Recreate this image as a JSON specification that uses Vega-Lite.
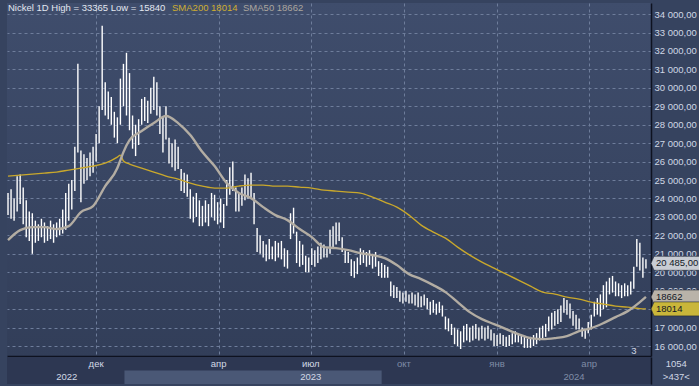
{
  "$schema": "https://vega.github.io/schema/vega-lite/v6.json",
  "padding": {"left": 3, "top": 3, "right": 2, "bottom": 2},
  "background": "#36435f",
  "spacing": 1,
  "config": {"font": "Liberation Sans", "view": {"stroke": null}},
  "datasets": {
    "ohlc": [
      {"d":"2022-09-05","lo":23100,"hi":24300},{"d":"2022-09-08","lo":22900,"hi":24500},{"d":"2022-09-11","lo":22800,"hi":24000},
      {"d":"2022-09-14","lo":23300,"hi":25200},{"d":"2022-09-17","lo":23700,"hi":25300},{"d":"2022-09-20","lo":22600,"hi":24600},
      {"d":"2022-09-23","lo":21900,"hi":23900},{"d":"2022-09-26","lo":21700,"hi":23300},{"d":"2022-09-29","lo":21000,"hi":23200},
      {"d":"2022-10-02","lo":21600,"hi":22800},{"d":"2022-10-05","lo":21700,"hi":22600},{"d":"2022-10-08","lo":21900,"hi":22900},
      {"d":"2022-10-11","lo":21600,"hi":22700},{"d":"2022-10-14","lo":21700,"hi":22500},{"d":"2022-10-17","lo":21800,"hi":22800},
      {"d":"2022-10-20","lo":21600,"hi":22600},{"d":"2022-10-23","lo":21900,"hi":22700},{"d":"2022-10-26","lo":22000,"hi":22900},
      {"d":"2022-10-29","lo":22100,"hi":23400},{"d":"2022-11-01","lo":22300,"hi":24300},{"d":"2022-11-04","lo":22800,"hi":24800},
      {"d":"2022-11-07","lo":23400,"hi":25000},{"d":"2022-11-10","lo":24400,"hi":26800},{"d":"2022-11-13","lo":26500,"hi":31300},
      {"d":"2022-11-16","lo":23800,"hi":26600},{"d":"2022-11-19","lo":24800,"hi":26400},{"d":"2022-11-22","lo":25000,"hi":26200},
      {"d":"2022-11-25","lo":25200,"hi":26500},{"d":"2022-11-28","lo":25400,"hi":26800},{"d":"2022-12-01","lo":26000,"hi":27500},
      {"d":"2022-12-04","lo":27000,"hi":29000},{"d":"2022-12-07","lo":28800,"hi":33365},{"d":"2022-12-10","lo":28500,"hi":30300},
      {"d":"2022-12-13","lo":28300,"hi":29800},{"d":"2022-12-16","lo":28000,"hi":29500},{"d":"2022-12-19","lo":27300,"hi":28700},
      {"d":"2022-12-22","lo":27000,"hi":28400},{"d":"2022-12-25","lo":28000,"hi":30500},{"d":"2022-12-28","lo":29000,"hi":31300},
      {"d":"2022-12-31","lo":28500,"hi":31900},{"d":"2023-01-03","lo":27700,"hi":30800},{"d":"2023-01-06","lo":26700,"hi":28500},
      {"d":"2023-01-09","lo":26300,"hi":28000},{"d":"2023-01-12","lo":26900,"hi":28300},{"d":"2023-01-15","lo":28000,"hi":29400},
      {"d":"2023-01-18","lo":28200,"hi":29500},{"d":"2023-01-21","lo":28100,"hi":29300},{"d":"2023-01-24","lo":28600,"hi":30000},
      {"d":"2023-01-27","lo":28800,"hi":30600},{"d":"2023-01-30","lo":28500,"hi":30300},{"d":"2023-02-02","lo":27500,"hi":29000},
      {"d":"2023-02-05","lo":26500,"hi":28400},{"d":"2023-02-08","lo":27200,"hi":29000},{"d":"2023-02-11","lo":25900,"hi":27300},
      {"d":"2023-02-14","lo":25700,"hi":27000},{"d":"2023-02-17","lo":25500,"hi":27200},{"d":"2023-02-20","lo":25600,"hi":26800},
      {"d":"2023-02-23","lo":24400,"hi":25600},{"d":"2023-02-26","lo":24300,"hi":25400},{"d":"2023-03-01","lo":24100,"hi":25300},
      {"d":"2023-03-04","lo":22900,"hi":24500},{"d":"2023-03-07","lo":22700,"hi":24100},{"d":"2023-03-10","lo":23000,"hi":24300},
      {"d":"2023-03-13","lo":22500,"hi":23900},{"d":"2023-03-16","lo":22500,"hi":23600},{"d":"2023-03-19","lo":22700,"hi":23900},
      {"d":"2023-03-22","lo":22500,"hi":23700},{"d":"2023-03-25","lo":23000,"hi":24300},{"d":"2023-03-28","lo":22800,"hi":24200},
      {"d":"2023-03-31","lo":22600,"hi":23800},{"d":"2023-04-03","lo":22700,"hi":24000},{"d":"2023-04-06","lo":22400,"hi":23700},
      {"d":"2023-04-09","lo":23600,"hi":25000},{"d":"2023-04-12","lo":24200,"hi":25700},{"d":"2023-04-15","lo":24400,"hi":26000},
      {"d":"2023-04-18","lo":23300,"hi":24600},{"d":"2023-04-21","lo":23300,"hi":24300},{"d":"2023-04-24","lo":23600,"hi":24600},
      {"d":"2023-04-27","lo":23900,"hi":25300},{"d":"2023-04-30","lo":24000,"hi":25100},{"d":"2023-05-03","lo":24000,"hi":25400},
      {"d":"2023-05-06","lo":22600,"hi":24300},{"d":"2023-05-09","lo":21100,"hi":22400},{"d":"2023-05-12","lo":21000,"hi":22000},
      {"d":"2023-05-15","lo":20800,"hi":21700},{"d":"2023-05-18","lo":20600,"hi":21500},{"d":"2023-05-21","lo":20700,"hi":21800},
      {"d":"2023-05-24","lo":20700,"hi":21400},{"d":"2023-05-27","lo":20600,"hi":21700},{"d":"2023-05-30","lo":20800,"hi":21600},
      {"d":"2023-06-02","lo":20700,"hi":21700},{"d":"2023-06-05","lo":20300,"hi":21300},{"d":"2023-06-08","lo":20200,"hi":21200},
      {"d":"2023-06-11","lo":21800,"hi":23200},{"d":"2023-06-14","lo":22100,"hi":23500},{"d":"2023-06-17","lo":20500,"hi":22200},
      {"d":"2023-06-20","lo":20300,"hi":21700},{"d":"2023-06-23","lo":20400,"hi":21500},{"d":"2023-06-26","lo":20000,"hi":20900},
      {"d":"2023-06-29","lo":20000,"hi":20800},{"d":"2023-07-02","lo":20400,"hi":21300},{"d":"2023-07-05","lo":20300,"hi":21200},
      {"d":"2023-07-08","lo":20500,"hi":21400},{"d":"2023-07-11","lo":20700,"hi":21600},{"d":"2023-07-14","lo":20800,"hi":21500},
      {"d":"2023-07-17","lo":20800,"hi":21300},{"d":"2023-07-20","lo":21000,"hi":22300},{"d":"2023-07-23","lo":21300,"hi":22500},
      {"d":"2023-07-26","lo":21500,"hi":22700},{"d":"2023-07-29","lo":21700,"hi":22700},{"d":"2023-08-01","lo":21100,"hi":21900},
      {"d":"2023-08-04","lo":20500,"hi":21200},{"d":"2023-08-07","lo":20500,"hi":21100},{"d":"2023-08-10","lo":19800,"hi":20700},
      {"d":"2023-08-13","lo":19700,"hi":20600},{"d":"2023-08-16","lo":19900,"hi":20800},{"d":"2023-08-19","lo":20400,"hi":21300},
      {"d":"2023-08-22","lo":20500,"hi":21200},{"d":"2023-08-25","lo":20300,"hi":21100},{"d":"2023-08-28","lo":20400,"hi":21200},
      {"d":"2023-08-31","lo":20200,"hi":21000},{"d":"2023-09-03","lo":20300,"hi":21100},{"d":"2023-09-06","lo":19800,"hi":20600},
      {"d":"2023-09-09","lo":19700,"hi":20500},{"d":"2023-09-12","lo":19700,"hi":20400},{"d":"2023-09-15","lo":19700,"hi":20300},
      {"d":"2023-09-18","lo":18700,"hi":19500},{"d":"2023-09-21","lo":18600,"hi":19300},{"d":"2023-09-24","lo":18600,"hi":19200},
      {"d":"2023-09-27","lo":18400,"hi":19000},{"d":"2023-09-30","lo":18300,"hi":18900},{"d":"2023-10-03","lo":18400,"hi":19000},
      {"d":"2023-10-06","lo":18300,"hi":18800},{"d":"2023-10-09","lo":18300,"hi":18900},{"d":"2023-10-12","lo":18200,"hi":18800},
      {"d":"2023-10-15","lo":18100,"hi":18900},{"d":"2023-10-18","lo":18100,"hi":18700},{"d":"2023-10-21","lo":18200,"hi":18800},
      {"d":"2023-10-24","lo":18000,"hi":18600},{"d":"2023-10-27","lo":17700,"hi":18400},{"d":"2023-10-30","lo":17800,"hi":18500},
      {"d":"2023-11-02","lo":17700,"hi":18300},{"d":"2023-11-05","lo":17800,"hi":18400},{"d":"2023-11-08","lo":17600,"hi":18200},
      {"d":"2023-11-11","lo":16900,"hi":17600},{"d":"2023-11-14","lo":16800,"hi":17500},{"d":"2023-11-17","lo":16600,"hi":17200},
      {"d":"2023-11-20","lo":16100,"hi":17000},{"d":"2023-11-23","lo":16000,"hi":16900},{"d":"2023-11-26","lo":15840,"hi":16800},
      {"d":"2023-11-29","lo":16200,"hi":17100},{"d":"2023-12-02","lo":16300,"hi":17200},{"d":"2023-12-05","lo":16200,"hi":17000},
      {"d":"2023-12-08","lo":16300,"hi":17100},{"d":"2023-12-11","lo":16400,"hi":17200},{"d":"2023-12-14","lo":16300,"hi":17000},
      {"d":"2023-12-17","lo":16400,"hi":17100},{"d":"2023-12-20","lo":16300,"hi":17000},{"d":"2023-12-23","lo":16400,"hi":17100},
      {"d":"2023-12-26","lo":16300,"hi":16900},{"d":"2023-12-29","lo":16000,"hi":16700},{"d":"2024-01-01","lo":16000,"hi":16600},
      {"d":"2024-01-04","lo":16100,"hi":16700},{"d":"2024-01-07","lo":16000,"hi":16600},{"d":"2024-01-10","lo":15950,"hi":16500},
      {"d":"2024-01-13","lo":16000,"hi":16600},{"d":"2024-01-16","lo":16100,"hi":16700},{"d":"2024-01-19","lo":16200,"hi":16800},
      {"d":"2024-01-22","lo":16200,"hi":16700},{"d":"2024-01-25","lo":16100,"hi":16600},{"d":"2024-01-28","lo":15900,"hi":16500},
      {"d":"2024-01-31","lo":15900,"hi":16400},{"d":"2024-02-03","lo":15900,"hi":16500},{"d":"2024-02-06","lo":16000,"hi":16600},
      {"d":"2024-02-09","lo":16100,"hi":16700},{"d":"2024-02-12","lo":16300,"hi":17000},{"d":"2024-02-15","lo":16400,"hi":17100},
      {"d":"2024-02-18","lo":16500,"hi":17200},{"d":"2024-02-21","lo":16800,"hi":17600},{"d":"2024-02-24","lo":16900,"hi":17800},
      {"d":"2024-02-27","lo":17100,"hi":17900},{"d":"2024-03-01","lo":17200,"hi":18000},{"d":"2024-03-04","lo":17300,"hi":18200},
      {"d":"2024-03-07","lo":17800,"hi":18600},{"d":"2024-03-10","lo":17700,"hi":18500},{"d":"2024-03-13","lo":17500,"hi":18300},
      {"d":"2024-03-16","lo":17100,"hi":17900},{"d":"2024-03-19","lo":16900,"hi":17700},{"d":"2024-03-22","lo":16900,"hi":17500},
      {"d":"2024-03-25","lo":16500,"hi":17000},{"d":"2024-03-28","lo":16400,"hi":16900},{"d":"2024-03-31","lo":16700,"hi":17300},
      {"d":"2024-04-03","lo":16900,"hi":17700},{"d":"2024-04-06","lo":17600,"hi":18400},{"d":"2024-04-09","lo":17700,"hi":18600},
      {"d":"2024-04-12","lo":17600,"hi":18800},{"d":"2024-04-15","lo":18000,"hi":19300},{"d":"2024-04-18","lo":18100,"hi":19500},
      {"d":"2024-04-21","lo":18800,"hi":19700},{"d":"2024-04-24","lo":18900,"hi":19800},{"d":"2024-04-27","lo":18700,"hi":19500},
      {"d":"2024-04-30","lo":18700,"hi":19400},{"d":"2024-05-03","lo":18600,"hi":19300},{"d":"2024-05-06","lo":18700,"hi":19400},
      {"d":"2024-05-09","lo":18700,"hi":19300},{"d":"2024-05-12","lo":18800,"hi":19500},{"d":"2024-05-15","lo":19100,"hi":20300},
      {"d":"2024-05-18","lo":20300,"hi":21800},{"d":"2024-05-21","lo":20100,"hi":21600},{"d":"2024-05-24","lo":19700,"hi":20800},
      {"d":"2024-05-27","lo":20200,"hi":20700}
    ],
    "sma": [
      {"d":"2022-09-05","s200":25215,"s50":21744},{"d":"2022-09-17","s200":25269,"s50":22286},{"d":"2022-09-29","s200":25323,"s50":22449},
      {"d":"2022-10-11","s200":25377,"s50":22449},{"d":"2022-10-23","s200":25432,"s50":22341},{"d":"2022-11-04","s200":25540,"s50":22503},
      {"d":"2022-11-16","s200":25649,"s50":23263},{"d":"2022-11-28","s200":25757,"s50":23588},{"d":"2022-12-10","s200":25920,"s50":24672},
      {"d":"2022-12-22","s200":26245,"s50":25649},{"d":"2022-12-25","s200":26354,"s50":26082},{"d":"2022-12-28","s200":26028,"s50":26516},
      {"d":"2023-01-03","s200":25866,"s50":27167},{"d":"2023-01-15","s200":25649,"s50":27655},{"d":"2023-01-27","s200":25432,"s50":28089},
      {"d":"2023-02-08","s200":25215,"s50":28469},{"d":"2023-02-20","s200":25052,"s50":28089},{"d":"2023-03-04","s200":24835,"s50":27438},
      {"d":"2023-03-16","s200":24672,"s50":26516},{"d":"2023-03-28","s200":24564,"s50":25757},{"d":"2023-04-09","s200":24564,"s50":24835},
      {"d":"2023-04-21","s200":24672,"s50":24293},{"d":"2023-05-03","s200":24727,"s50":24022},{"d":"2023-05-15","s200":24727,"s50":23533},
      {"d":"2023-05-27","s200":24672,"s50":23100},{"d":"2023-06-08","s200":24672,"s50":22829},{"d":"2023-06-20","s200":24618,"s50":22341},
      {"d":"2023-07-02","s200":24564,"s50":21907},{"d":"2023-07-14","s200":24455,"s50":21364},{"d":"2023-07-26","s200":24401,"s50":21310},
      {"d":"2023-08-07","s200":24347,"s50":21202},{"d":"2023-08-19","s200":24293,"s50":21039},{"d":"2023-08-31","s200":24076,"s50":20930},
      {"d":"2023-09-12","s200":23805,"s50":20768},{"d":"2023-09-24","s200":23533,"s50":20388},{"d":"2023-10-06","s200":23100,"s50":19900},
      {"d":"2023-10-18","s200":22557,"s50":19629},{"d":"2023-10-30","s200":22178,"s50":19304},{"d":"2023-11-11","s200":21852,"s50":18924},
      {"d":"2023-11-23","s200":21364,"s50":18382},{"d":"2023-12-05","s200":20930,"s50":17839},{"d":"2023-12-17","s200":20551,"s50":17460},
      {"d":"2023-12-29","s200":20226,"s50":17189},{"d":"2024-01-10","s200":19900,"s50":16917},{"d":"2024-01-22","s200":19575,"s50":16646},
      {"d":"2024-02-03","s200":19250,"s50":16429},{"d":"2024-02-15","s200":18924,"s50":16375},{"d":"2024-02-27","s200":18816,"s50":16429},
      {"d":"2024-03-10","s200":18653,"s50":16538},{"d":"2024-03-22","s200":18545,"s50":16809},{"d":"2024-04-03","s200":18382,"s50":16971},
      {"d":"2024-04-15","s200":18273,"s50":17243},{"d":"2024-04-27","s200":18165,"s50":17568},{"d":"2024-05-09","s200":18111,"s50":17893},
      {"d":"2024-05-21","s200":18030,"s50":18382},{"d":"2024-05-27","s200":18014,"s50":18662}
    ],
    "tags": [
      {"k":"close","v":20485,"label":"20 485,00"},
      {"k":"sma50","v":18662,"label":"18662"},
      {"k":"sma200","v":18014,"label":"18014"}
    ],
    "bands": [
      {"s":"2022-12-29","e":"2023-09-09","row":"y","shade":"hl"}
    ],
    "tlabels": [
      {"d":"2022-12-01","t":"дек","row":"m","tone":"b"},
      {"d":"2023-04-01","t":"апр","row":"m","tone":"b"},
      {"d":"2023-07-01","t":"июл","row":"m","tone":"b"},
      {"d":"2023-10-01","t":"окт","row":"m","tone":"d"},
      {"d":"2024-01-01","t":"янв","row":"m","tone":"d"},
      {"d":"2024-04-01","t":"апр","row":"m","tone":"d"},
      {"d":"2022-11-02","t":"2022","row":"y","tone":"b"},
      {"d":"2023-07-01","t":"2023","row":"y","tone":"b"},
      {"d":"2024-03-17","t":"2024","row":"y","tone":"d"}
    ]
  },
  "vconcat": [
    {
      "width": 644,
      "height": 353,
      "view": {"stroke": null, "fill": {"gradient": "linear", "x1": 0, "y1": 0, "x2": 0, "y2": 1, "stops": [{"offset": 0, "color": "#3f4d6c"}, {"offset": 1, "color": "#323e59"}]}},
      "resolve": {"axis": {"x": "independent", "y": "independent"}},
      "layer": [
        {
          "data": {"name": "ohlc"},
          "mark": {"type": "rule", "color": "#ffffff", "strokeWidth": 1.4},
          "encoding": {
            "x": {"field": "d", "type": "temporal", "title": null,
              "scale": {"domain": [{"year": 2022, "month": 9, "date": 4, "utc": true}, {"year": 2024, "month": 6, "date": 1, "utc": true}]},
              "axis": {"values": [
                {"year": 2022, "month": 12, "date": 1, "utc": true},
                {"year": 2023, "month": 4, "date": 1, "utc": true},
                {"year": 2023, "month": 7, "date": 1, "utc": true},
                {"year": 2023, "month": 10, "date": 1, "utc": true},
                {"year": 2024, "month": 1, "date": 1, "utc": true},
                {"year": 2024, "month": 4, "date": 1, "utc": true}],
                "labels": false, "ticks": false, "domain": true, "domainColor": "#0e1220", "domainWidth": 1.5,
                "grid": true, "gridColor": "#6e7d9b", "gridDash": [3, 3], "gridWidth": 1}},
            "y": {"field": "lo", "type": "quantitative", "title": null,
              "scale": {"domain": [15460, 34600], "zero": false, "nice": false},
              "axis": {"orient": "right", "values": [16000,17000,18000,19000,20000,21000,22000,23000,24000,25000,26000,27000,28000,29000,30000,31000,32000,33000,34000],
                "labelOverlap": false,
                "labelExpr": "datum.value == 18000 ? '' : replace(replace(format(datum.value, ',.2f'), ',', ' '), '.', ',')",
                "labelColor": "#d0d7e5", "labelFontSize": 9.5, "labelPadding": 3, "labelFont": "Liberation Sans",
                "ticks": false, "domain": true, "domainColor": "#0e1220", "domainWidth": 1.5,
                "grid": true, "gridColor": "#6e7d9b", "gridDash": [3, 3], "gridWidth": 1}},
            "y2": {"field": "hi"}
          }
        },
        {
          "data": {"name": "sma"},
          "mark": {"type": "line", "color": "#c9a82c", "strokeWidth": 1.4, "interpolate": "monotone"},
          "encoding": {
            "x": {"field": "d", "type": "temporal", "axis": null},
            "y": {"field": "s200", "type": "quantitative", "axis": null}
          }
        },
        {
          "data": {"name": "sma"},
          "mark": {"type": "line", "color": "#b3ada3", "strokeWidth": 2.4, "interpolate": "monotone"},
          "encoding": {
            "x": {"field": "d", "type": "temporal", "axis": null},
            "y": {"field": "s50", "type": "quantitative", "axis": null}
          }
        },
        {
          "data": {"name": "tags"},
          "mark": {"type": "point", "shape": "M0,0L0.12,-0.28L2,-0.28L2,0.28L0.12,0.28Z", "size": 2500, "filled": true, "opacity": 1, "stroke": "#1c2333", "strokeWidth": 0.6, "clip": false},
          "encoding": {
            "x": {"datum": {"year": 2024, "month": 6, "date": 1, "utc": true}, "type": "temporal", "axis": null},
            "y": {"field": "v", "type": "quantitative", "axis": null},
            "color": {"field": "k", "type": "nominal", "scale": {"domain": ["close", "sma50", "sma200"], "range": ["#c8ccd3", "#b9b3a9", "#c9b63a"]}, "legend": null}
          }
        },
        {
          "data": {"name": "tags"},
          "mark": {"type": "text", "align": "left", "baseline": "middle", "dx": 5, "fontSize": 9.5, "color": "#121826", "clip": false},
          "encoding": {
            "x": {"datum": {"year": 2024, "month": 6, "date": 1, "utc": true}, "type": "temporal", "axis": null},
            "y": {"field": "v", "type": "quantitative", "axis": null},
            "text": {"field": "label"}
          }
        },
        {
          "data": {"values": [{"t": "Nickel 1D High = 33365 Low = 15840"}]},
          "mark": {"type": "text", "align": "left", "baseline": "middle", "fontSize": 9.5, "color": "#e2e7f0"},
          "encoding": {
            "x": {"datum": {"year": 2022, "month": 9, "date": 5, "utc": true}, "type": "temporal", "axis": null},
            "y": {"datum": 34325, "type": "quantitative", "axis": null},
            "text": {"field": "t"}
          }
        },
        {
          "data": {"values": [{"t": "SMA200 18014"}]},
          "mark": {"type": "text", "align": "left", "baseline": "middle", "fontSize": 9.5, "dx": 164, "color": "#cfae30"},
          "encoding": {
            "x": {"datum": {"year": 2022, "month": 9, "date": 5, "utc": true}, "type": "temporal", "axis": null},
            "y": {"datum": 34325, "type": "quantitative", "axis": null},
            "text": {"field": "t"}
          }
        },
        {
          "data": {"values": [{"t": "SMA50 18662"}]},
          "mark": {"type": "text", "align": "left", "baseline": "middle", "fontSize": 9.5, "dx": 235, "color": "#aca69e"},
          "encoding": {
            "x": {"datum": {"year": 2022, "month": 9, "date": 5, "utc": true}, "type": "temporal", "axis": null},
            "y": {"datum": 34325, "type": "quantitative", "axis": null},
            "text": {"field": "t"}
          }
        },
        {
          "data": {"values": [{"t": "3"}]},
          "mark": {"type": "text", "align": "center", "baseline": "middle", "fontSize": 9.5, "color": "#d0d7e5"},
          "encoding": {
            "x": {"datum": {"year": 2024, "month": 5, "date": 15, "utc": true}, "type": "temporal", "axis": null},
            "y": {"datum": 15720, "type": "quantitative", "axis": null},
            "text": {"field": "t"}
          }
        }
      ]
    },
    {
      "width": 644,
      "height": 27,
      "view": {"stroke": null, "fill": "#2d3752"},
      "resolve": {"scale": {"color": "independent"}, "axis": {"y": "independent"}},
      "layer": [
        {
          "data": {"name": "bands"},
          "mark": {"type": "rect"},
          "encoding": {
            "x": {"field": "s", "type": "temporal", "title": null,
              "scale": {"domain": [{"year": 2022, "month": 9, "date": 4, "utc": true}, {"year": 2024, "month": 6, "date": 1, "utc": true}]},
              "axis": null},
            "x2": {"field": "e"},
            "y": {"field": "row", "type": "nominal", "title": null,
              "scale": {"domain": ["m", "y"], "paddingInner": 0, "paddingOuter": 0},
              "axis": {"orient": "right", "labels": false, "ticks": false, "domain": true, "domainColor": "#0e1220", "domainWidth": 1.5, "grid": false}},
            "color": {"field": "shade", "type": "nominal", "scale": {"domain": ["hl"], "range": ["#4a5876"]}, "legend": null}
          }
        },
        {
          "data": {"name": "tlabels"},
          "mark": {"type": "text", "baseline": "middle", "align": "center", "fontSize": 9.5},
          "encoding": {
            "x": {"field": "d", "type": "temporal", "axis": null},
            "y": {"field": "row", "type": "nominal", "axis": null},
            "text": {"field": "t"},
            "color": {"field": "tone", "type": "nominal", "scale": {"domain": ["b", "d"], "range": ["#d2d9e6", "#7f8ca6"]}, "legend": null}
          }
        },
        {
          "data": {"values": [{"t": "1054", "row": "m"}, {"t": ">437<", "row": "y"}]},
          "mark": {"type": "text", "baseline": "middle", "align": "center", "fontSize": 9.5, "color": "#d0d7e5", "clip": false},
          "encoding": {
            "x": {"datum": {"year": 2024, "month": 6, "date": 26, "utc": true}, "type": "temporal", "axis": null},
            "y": {"field": "row", "type": "nominal", "axis": null},
            "text": {"field": "t"}
          }
        }
      ]
    }
  ]
}
